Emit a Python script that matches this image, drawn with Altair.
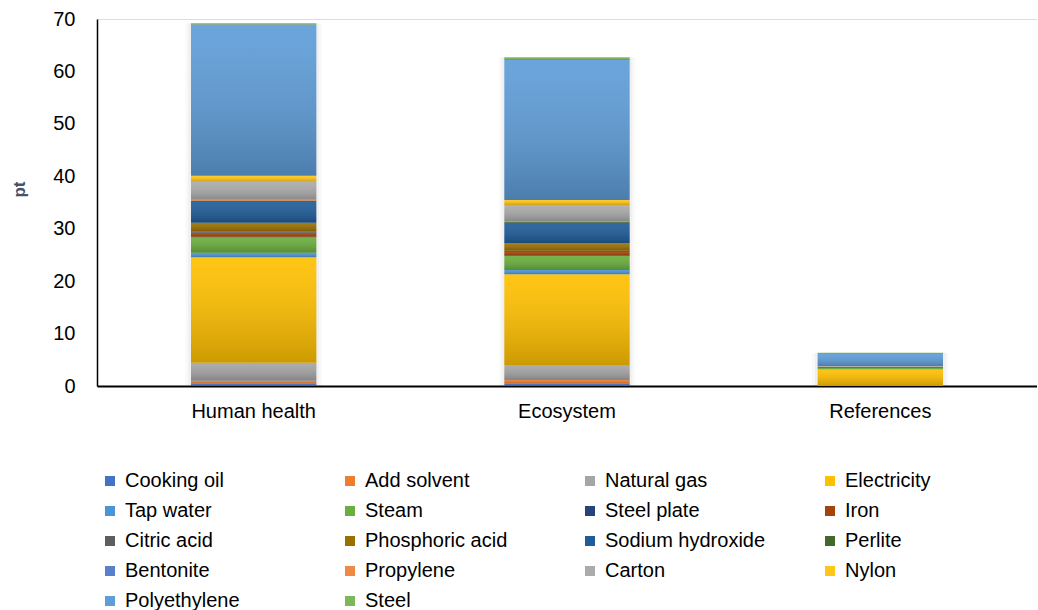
import altair as alt
import pandas as pd

# Impact categories on the x axis
categories = ["Human health", "Ecosystem", "References"]

# Inventory items, in stacking order (first one sits at the bottom)
items = [
    "Cooking oil", "Add solvent", "Natural gas", "Electricity",
    "Tap water", "Steam", "Steel plate", "Iron",
    "Citric acid", "Phosphoric acid", "Sodium hydroxide", "Perlite",
    "Bentonite", "Propylene", "Carton", "Nylon",
    "Polyethylene", "Steel",
]

# Contribution of each item (pt), one list per category
human_health = [0.51, 0.51, 3.43, 20.09, 0.89, 2.92, 0.13, 0.76, 0.19, 1.72,
                3.94, 0.19, 0.06, 0.19, 3.43, 1.14, 28.86, 0.25]
ecosystem = [0.51, 0.64, 2.86, 17.29, 0.83, 2.67, 0.13, 0.64, 0.25, 1.40,
             3.94, 0.13, 0.06, 0.13, 3.05, 0.95, 26.70, 0.51]
references = [0.0, 0.0, 0.0, 3.20, 0.0, 0.25, 0.0, 0.0, 0.0, 0.20,
              0.0, 0.0, 0.0, 0.0, 0.15, 0.0, 2.30, 0.25]

# Office-style series palette
palette = [
    "#4472C4", "#ED7D31", "#A5A5A5", "#FFC000",
    "#4A94D8", "#6AAE3E", "#264478", "#A5440A",
    "#5E5E5E", "#9A7000", "#1F5C98", "#43682B",
    "#5A80CC", "#EE8A45", "#ABABAB", "#FFC61A",
    "#5E9DD8", "#7CB85A",
]

rows = []
for cat, vals in zip(categories, [human_health, ecosystem, references]):
    for i, (item, v) in enumerate(zip(items, vals)):
        rows.append({"category": cat, "item": item, "idx": i, "value": v})
df = pd.DataFrame(rows)
totals = df.groupby("category", as_index=False)["value"].sum()

text_font = "Liberation Sans"

x_enc = alt.X(
    "category:N",
    sort=categories,
    scale=alt.Scale(paddingInner=0.6, paddingOuter=0.3),
    axis=alt.Axis(
        title=None, labelAngle=0, labelFont=text_font, labelFontSize=20,
        labelColor="black", labelPadding=15, ticks=False,
        domainColor="black", domainWidth=2,
    ),
)

y_scale = alt.Scale(domain=[0, 70], nice=False)
y_axis = alt.Axis(
    title="pt", titleFont=text_font, titleFontSize=17,
    titleFontWeight="bold", titleColor="#44546A", titleX=-78, titleY=170,
    titleBaseline="middle", titleAngle=-90,
    values=list(range(0, 71, 10)), labelFont=text_font, labelFontSize=20,
    labelColor="black", labelPadding=22, ticks=False, grid=False,
    domainColor="black", domainWidth=1.5,
)

# soft shadow behind each column
shadow_outer = alt.Chart(totals).mark_bar(
    color="#000000", opacity=0.025, width=alt.RelativeBandSize(1.09)
).encode(x=x_enc, y=alt.Y("value:Q", scale=y_scale, axis=y_axis))

shadow_inner = alt.Chart(totals).mark_bar(
    color="#000000", opacity=0.035, width=alt.RelativeBandSize(1.045)
).encode(x=x_enc, y=alt.Y("value:Q", scale=y_scale, axis=y_axis))

bars = alt.Chart(df).mark_bar().encode(
    x=x_enc,
    y=alt.Y("value:Q", stack="zero", scale=y_scale, axis=y_axis),
    color=alt.Color(
        "item:N",
        sort=items,
        scale=alt.Scale(domain=items, range=palette),
        legend=alt.Legend(
            title=None, orient="none", legendX=3, legendY=452,
            direction="horizontal", columns=4, gridAlign="all",
            columnPadding=54, rowPadding=10,
            symbolType="square", symbolSize=100, symbolStrokeWidth=0,
            labelFont=text_font, labelFontSize=20, labelColor="black",
            labelOffset=5, labelLimit=300,
        ),
    ),
    order=alt.Order("idx:Q", sort="ascending"),
)

# vertical shading: lighter at the top of each segment, darker at the bottom
shade = alt.Chart(df).mark_bar(
    fill=alt.Gradient(
        gradient="linear",
        stops=[
            alt.GradientStop(color="rgba(255,255,255,0.08)", offset=0),
            alt.GradientStop(color="rgba(0,0,0,0.2)", offset=1),
        ],
        x1=0, x2=0, y1=0, y2=1,
    )
).encode(
    x=x_enc,
    y=alt.Y("value:Q", stack="zero", scale=y_scale, axis=y_axis),
    order=alt.Order("idx:Q", sort="ascending"),
)

chart = alt.layer(shadow_outer, shadow_inner, bars, shade).properties(
    width=940,
    height=367,
    padding={"left": 97, "top": 19, "right": 0, "bottom": 224},
    autosize=alt.AutoSizeParams(type="none"),
).configure_view(stroke=None).configure(background="white")

chart.save("out.html", embed_options={"renderer": "svg", "actions": False})
